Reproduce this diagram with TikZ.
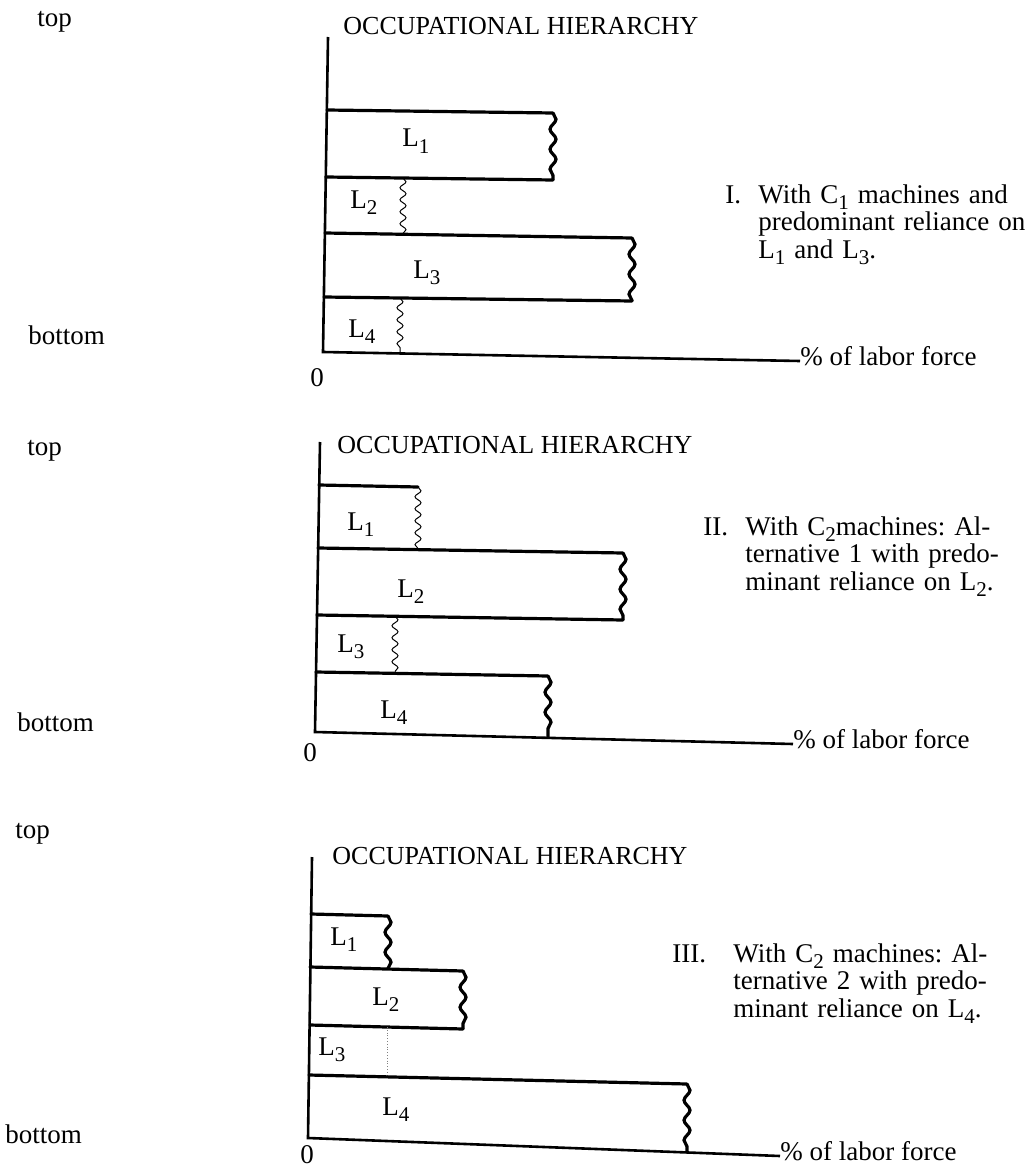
\documentclass[tikz,border=0pt]{standalone}
\usepackage{fontspec}
\setmainfont{Liberation Serif}
\usepackage{tikz}
\usetikzlibrary{decorations.pathmorphing}
\frenchspacing
\newcommand{\lsub}[1]{\raisebox{-0.5ex}{\fontsize{10.5}{10.5}\selectfont #1}}

\begin{document}
\begin{tikzpicture}[x=0.5pt, y=-0.5pt,
    lbl/.style={font=\fontsize{13.5}{13.75}\selectfont, inner sep=0pt},
    ttl/.style={font=\fontsize{13}{13}\selectfont, inner sep=0pt, anchor=base west},
    note/.style={lbl, align=left, text width=150pt, anchor=base west},
    bar/.style={line width=1.6pt, line cap=round},
    axisline/.style={line width=1.3pt},
    tornthick/.style={line width=1.6pt, decorate, decoration={snake, amplitude=1.5pt, segment length=10pt}},
    tornthin/.style={line width=0.5pt, decorate, decoration={snake, amplitude=1.5pt, segment length=6pt}},
    tornfaint/.style={line width=0.4pt, gray, densely dotted},
]
\useasboundingbox (0,0) rectangle (1036,1172);

% I
\node[lbl, anchor=base west] (topI)    at (37,27)   {top};
\node[lbl, anchor=base west] (bottomI) at (28,344)  {bottom};
\node[ttl]                   (titleI)  at (343,35)  {OCCUPATIONAL HIERARCHY};
\node[lbl, anchor=base]      (zeroI)   at (317,386) {0};
\node[lbl, anchor=base west] (forceI)  at (800,365) {\% of labor force};
\coordinate (axI)   at (328,37);
\coordinate (origI) at (323,352);
\draw[axisline] (axI) -- (origI) -- ([yshift=2pt]forceI.base west);

\draw[bar] (327,110) -- (553,113);
\draw[tornthick] (553,113) -- (553,180);
\draw[bar] (326,177) -- (553,180);
\draw[tornthin] (403,178) -- (403,234);
\draw[bar] (325,233) -- (632,238);
\draw[tornthick] (632,238) -- (632,301);
\draw[bar] (324,297) -- (632,301);
\draw[tornthin] (400,298) -- (400,353);

\node[lbl, anchor=base west] (I-L1) at (402,147) {L\lsub{1}};
\node[lbl, anchor=base west] (I-L2) at (350,208) {L\lsub{2}};
\node[lbl, anchor=base west] (I-L3) at (413,278) {L\lsub{3}};
\node[lbl, anchor=base west] (I-L4) at (348,337) {L\lsub{4}};

\node[lbl, anchor=base west] (numI) at (725,203) {I.};
\node[note] (noteI) at (758,203) {With C\lsub{1} machines and\\predominant reliance on\\L\lsub{1} and L\lsub{3}.};

% II
\node[lbl, anchor=base west] (topII)    at (27,455)  {top};
\node[lbl, anchor=base west] (bottomII) at (17,731)  {bottom};
\node[ttl]                   (titleII)  at (337,453) {OCCUPATIONAL HIERARCHY};
\node[lbl, anchor=base]      (zeroII)   at (310,761) {0};
\node[lbl, anchor=base west] (forceII)  at (793,748) {\% of labor force};
\coordinate (axII)   at (320,442);
\coordinate (origII) at (315,732);
\draw[axisline] (axII) -- (origII) -- ([yshift=2pt]forceII.base west);

\draw[bar] (319,485) -- (418,487);
\draw[tornthin] (418,487) -- (418,550);
\draw[bar] (318,548) -- (623,553);
\draw[tornthick] (623,553) -- (623,620);
\draw[bar] (317,615) -- (623,620);
\draw[tornthin] (395,616) -- (395,673);
\draw[bar] (316,672) -- (548,676);
\draw[tornthick] (548,676) -- (548,738);

\node[lbl, anchor=base west] (II-L1) at (347,530) {L\lsub{1}};
\node[lbl, anchor=base west] (II-L2) at (397,597) {L\lsub{2}};
\node[lbl, anchor=base west] (II-L3) at (337,652) {L\lsub{3}};
\node[lbl, anchor=base west] (II-L4) at (380,718) {L\lsub{4}};

\node[lbl, anchor=base west] (numII) at (703,535) {II.};
\node[note] (noteII) at (745,535) {With C\lsub{2}machines: Al-\\ternative 1 with predo-\\minant reliance on L\lsub{2}.};

% III
\node[lbl, anchor=base west] (topIII)    at (15,838)   {top};
\node[lbl, anchor=base west] (bottomIII) at (5,1143)   {bottom};
\node[ttl]                   (titleIII)  at (332,864)  {OCCUPATIONAL HIERARCHY};
\node[lbl, anchor=base]      (zeroIII)   at (307,1163) {0};
\node[lbl, anchor=base west] (forceIII)  at (780,1160) {\% of labor force};
\coordinate (axIII)   at (312,857);
\coordinate (origIII) at (308,1138);
\draw[axisline] (axIII) -- (origIII) -- ([yshift=2pt]forceIII.base west);

\draw[bar] (311,914) -- (388,916);
\draw[tornthick] (388,916) -- (388,969);
\draw[bar] (310,967) -- (463,971);
\draw[tornthick] (463,971) -- (463,1029);
\draw[bar] (310,1025) -- (463,1029);
\draw[tornfaint] (387,1027) -- (387,1077);
\draw[bar] (309,1075) -- (687,1084);
\draw[tornthick] (687,1084) -- (687,1153);

\node[lbl, anchor=base west] (III-L1) at (330,945)  {L\lsub{1}};
\node[lbl, anchor=base west] (III-L2) at (372,1005) {L\lsub{2}};
\node[lbl, anchor=base west] (III-L3) at (318,1055) {L\lsub{3}};
\node[lbl, anchor=base west] (III-L4) at (382,1115) {L\lsub{4}};

\node[lbl, anchor=base west] (numIII) at (672,962) {III.};
\node[note] (noteIII) at (733,962) {With C\lsub{2} machines: Al-\\ternative 2 with predo-\\minant reliance on L\lsub{4}.};

\end{tikzpicture}
\end{document}
